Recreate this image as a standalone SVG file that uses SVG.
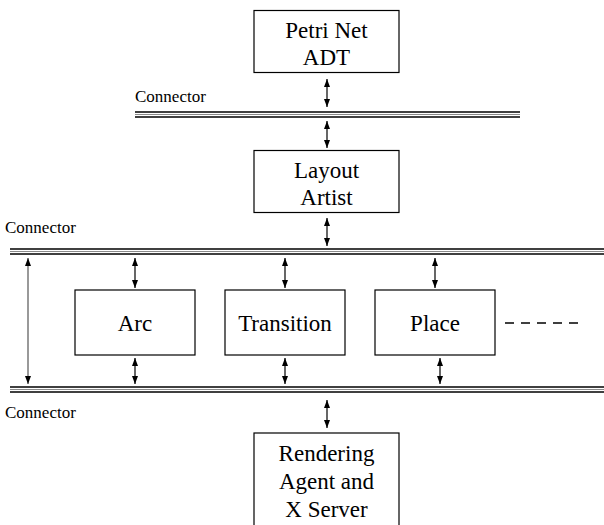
<svg xmlns="http://www.w3.org/2000/svg" width="604" height="525" viewBox="0 0 604 525">
  <style>
    .box { fill: #fff; stroke: #000; stroke-width: 1.2; }
    .lbl { font-size: 23px; fill: #000; text-anchor: middle; }
    .cap { font-size: 17px; fill: #000; }
    .link { stroke: #000; stroke-width: 1.2; fill: none; marker-start: url(#head); marker-end: url(#head); }
    .bus-dark { stroke: #000; stroke-width: 1.6; }
    .bus-mid { stroke: #8a8a8a; stroke-width: 1.2; }
  </style>
  <defs>
    <marker id="head" viewBox="0 0 8 8" refX="8" refY="4" markerWidth="8" markerHeight="8" markerUnits="userSpaceOnUse" orient="auto-start-reverse">
      <path d="M0,1 L8,4 L0,7 z" fill="#000"/>
    </marker>
  </defs>
  <rect width="604" height="525" fill="#fff"/>

  <g font-family="Liberation Serif, DejaVu Serif, serif">
  <!-- bus lines -->
  <g id="buses">
    <g id="bus-top">
      <line class="bus-dark" x1="135" y1="112" x2="520" y2="112"/>
      <line class="bus-mid" x1="135" y1="114.5" x2="520" y2="114.5"/>
      <line class="bus-dark" x1="135" y1="117" x2="520" y2="117"/>
    </g>
    <g id="bus-middle">
      <line class="bus-dark" x1="10" y1="249" x2="604" y2="249"/>
      <line class="bus-mid" x1="10" y1="251.5" x2="604" y2="251.5"/>
      <line class="bus-dark" x1="10" y1="254" x2="604" y2="254"/>
    </g>
    <g id="bus-bottom">
      <line class="bus-dark" x1="10" y1="387" x2="604" y2="387"/>
      <line class="bus-mid" x1="10" y1="389.5" x2="604" y2="389.5"/>
      <line class="bus-dark" x1="10" y1="392" x2="604" y2="392"/>
    </g>
    <text class="cap" x="135" y="102">Connector</text>
    <text class="cap" x="5" y="233">Connector</text>
    <text class="cap" x="5" y="418">Connector</text>
  </g>

  <!-- nodes -->
  <g id="petri-net-adt">
    <rect class="box" x="254" y="10.5" width="145" height="62"/>
    <text class="lbl" x="326.5" y="38">Petri Net</text>
    <text class="lbl" x="326.5" y="65">ADT</text>
  </g>
  <g id="layout-artist">
    <rect class="box" x="254" y="150.5" width="145" height="62"/>
    <text class="lbl" x="326.5" y="178">Layout</text>
    <text class="lbl" x="326.5" y="205">Artist</text>
  </g>
  <g id="arc">
    <rect class="box" x="75" y="290" width="120" height="65"/>
    <text class="lbl" x="135" y="331">Arc</text>
  </g>
  <g id="transition">
    <rect class="box" x="225" y="290" width="120" height="65"/>
    <text class="lbl" x="285" y="331">Transition</text>
  </g>
  <g id="place">
    <rect class="box" x="375" y="290" width="120" height="65"/>
    <text class="lbl" x="435" y="331">Place</text>
  </g>
  <g id="rendering-agent">
    <rect class="box" x="254" y="433" width="145" height="100"/>
    <text class="lbl" x="326.5" y="461">Rendering</text>
    <text class="lbl" x="326.5" y="489">Agent and</text>
    <text class="lbl" x="326.5" y="517">X Server</text>
  </g>
  </g>

  <!-- connectors -->
  <g id="connectors">
    <line class="link" x1="327" y1="79" x2="327" y2="107"/>
    <line class="link" x1="327" y1="121" x2="327" y2="148"/>
    <line class="link" x1="327" y1="218" x2="327" y2="246"/>
    <line class="link" x1="28" y1="258" x2="28" y2="384" style="stroke:#555"/>
    <line class="link" x1="135" y1="258" x2="135" y2="288"/>
    <line class="link" x1="285" y1="258" x2="285" y2="288"/>
    <line class="link" x1="435" y1="258" x2="435" y2="288"/>
    <line class="link" x1="135" y1="358" x2="135" y2="384"/>
    <line class="link" x1="285" y1="358" x2="285" y2="384"/>
    <line class="link" x1="440" y1="358" x2="440" y2="384"/>
    <line class="link" x1="327" y1="400" x2="327" y2="428"/>
    <line x1="505" y1="323" x2="580" y2="323" stroke="#000" stroke-width="1.5" stroke-dasharray="9 7"/>
  </g>
</svg>
